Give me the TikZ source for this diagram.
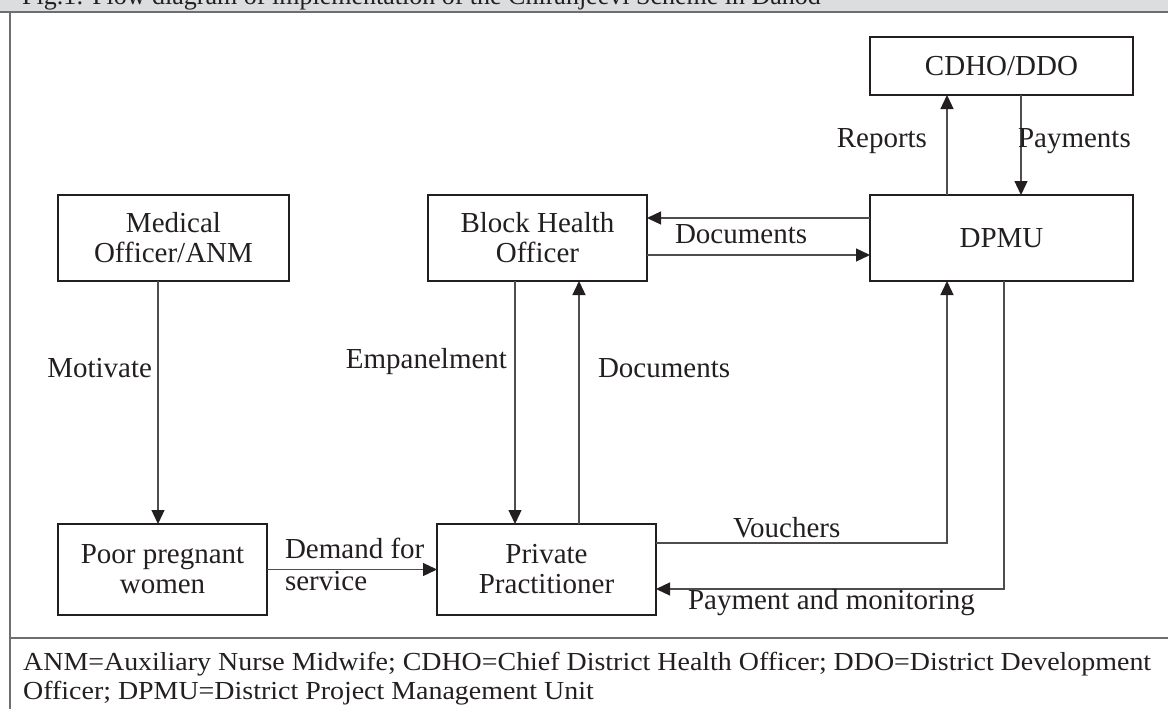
\documentclass[tikz,border=0pt]{standalone}
\usepackage{fontspec}
\setmainfont{Liberation Serif}
\usetikzlibrary{arrows.meta}
\definecolor{ink}{HTML}{231F20}
\definecolor{rulegray}{HTML}{6D6E71}
\definecolor{linegray}{HTML}{4D4D4D}
\definecolor{headbg}{HTML}{DCDDDE}
\newsavebox\fnboxA
\begin{document}
\sbox\fnboxA{\fontsize{26}{28}\selectfont ANM=Auxiliary Nurse Midwife; CDHO=Chief District Health Officer; DDO=District Development}%
\pgfmathsetmacro\fnx{1128/\the\wd\fnboxA}%
\begin{tikzpicture}[x=1pt,y=-1pt,
  box/.style={draw=ink, line width=1.3pt, inner sep=0pt, outer sep=0pt,
    align=center, text=ink, font=\fontsize{29}{30}\selectfont},
  lbl/.style={text=ink, inner sep=0pt, outer sep=0pt, font=\fontsize{29}{30}\selectfont},
  conn/.style={draw=linegray, line width=1.3pt},
  arr/.style={conn, -{Triangle[length=14pt,width=13pt,color=ink,fill=ink]}},
  frame/.style={draw=rulegray, line width=1.8pt},
  titletext/.style={text=ink, inner sep=0pt, font=\fontsize{26}{28}\selectfont},
  fntext/.style={text=ink, inner sep=0pt, font=\fontsize{26}{28}\selectfont}
]
\useasboundingbox (0,0) rectangle (1168,709);
% header bar and frame
\fill[headbg] (0,-30) rectangle (1168,12);
\node[titletext, anchor=base west] (title) at (22,5) {Fig.1: Flow diagram of implementation of the Chiranjeevi Scheme in Dahod};
\draw[frame] (0,12) -- (1168,12);
\draw[frame, line width=1.3pt] (10,12) -- (10,709);
\draw[frame] (10,638) -- (1168,638);

% boxes
\node[box, minimum width=263pt, minimum height=58pt] (cdho) at (1001.5,66) {CDHO/DDO};
\node[box, minimum width=263pt, minimum height=86pt] (dpmu) at (1001.5,238) {DPMU};
\node[box, minimum width=219pt, minimum height=86pt] (bho) at (537.5,238) {Block Health\\Officer};
\node[box, minimum width=231pt, minimum height=86pt] (mo) at (173.5,238) {Medical\\Officer/ANM};
\node[box, minimum width=209pt, minimum height=91pt] (ppw) at (162.5,569.5) {Poor pregnant\\women};
\node[box, minimum width=219pt, minimum height=91pt] (pp) at (546.5,569.5) {Private\\Practitioner};

% helper coordinates
\coordinate (xmot) at (158,0);
\coordinate (xemp) at (515,0);
\coordinate (xdoc) at (579,0);
\coordinate (xrep) at (947,0);
\coordinate (xpay) at (1021,0);
\coordinate (xpm) at (1004,0);
\coordinate (ydA) at (0,218);
\coordinate (ydB) at (0,255);
\coordinate (yv) at (0,543);
\coordinate (ypm) at (0,589);

% connectors
\draw[arr] (dpmu.north -| xrep) -- (cdho.south -| xrep);
\draw[arr] (cdho.south -| xpay) -- (dpmu.north -| xpay);
\draw[arr] (dpmu.west |- ydA) -- (bho.east |- ydA);
\draw[arr] (bho.east |- ydB) -- (dpmu.west |- ydB);
\draw[arr] (mo.south -| xmot) -- (ppw.north -| xmot);
\draw[arr] (bho.south -| xemp) -- (pp.north -| xemp);
\draw[arr] (pp.north -| xdoc) -- (bho.south -| xdoc);
\draw[arr] (ppw.east) -- (pp.west);
\draw[arr] (pp.east |- yv) -| (dpmu.south -| xrep);
\draw[arr] (dpmu.south -| xpm) |- (pp.east |- ypm);

% labels
\node[lbl, anchor=base east] (lrep) at (927,147) {Reports};
\node[lbl, anchor=base west] (lpay) at (1018,147) {Payments};
\node[lbl, anchor=base west] (ldocA) at (675,243) {Documents};
\node[lbl, anchor=base east] (lmot) at (152,377) {Motivate};
\node[lbl, anchor=base east] (lemp) at (507,368) {Empanelment};
\node[lbl, anchor=base west] (ldocB) at (598,377) {Documents};
\node[lbl, anchor=base west] (ldemA) at (285,558) {Demand for};
\node[lbl, anchor=base west] (ldemB) at (285,590) {service};
\node[lbl, anchor=base west] (lvou) at (733,537) {Vouchers};
\node[lbl, anchor=base west] (lpm) at (688,609) {Payment and monitoring};

% footnote
\node[fntext, anchor=base west] (fnA) at (23,670) {\scalebox{\fnx}[1]{ANM=Auxiliary Nurse Midwife; CDHO=Chief District Health Officer; DDO=District Development}};
\node[fntext, anchor=base west] (fnB) at (23,699) {\scalebox{\fnx}[1]{Officer; DPMU=District Project Management Unit}};
\end{tikzpicture}
\end{document}
